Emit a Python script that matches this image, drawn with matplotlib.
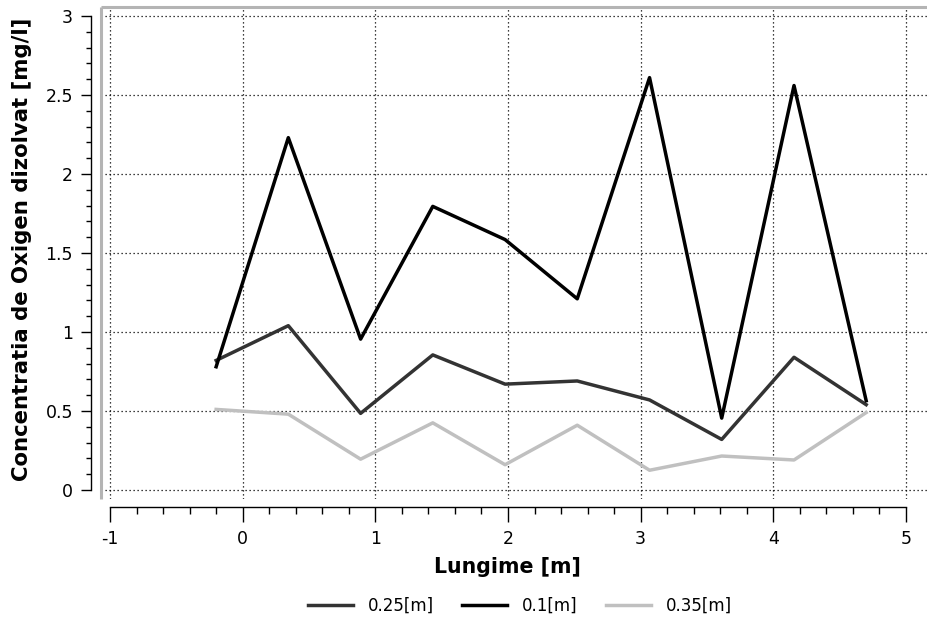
import matplotlib
matplotlib.use("Agg")
import matplotlib.pyplot as plt
from matplotlib.ticker import MultipleLocator
from matplotlib.lines import Line2D

# Data
lungime = [-0.2, 0.344, 0.889, 1.433, 1.978, 2.522, 3.067, 3.611, 4.156, 4.7]
conc_025 = [0.82, 1.04, 0.485, 0.855, 0.67, 0.69, 0.57, 0.32, 0.84, 0.54]
conc_01 = [0.78, 2.23, 0.955, 1.795, 1.585, 1.21, 2.61, 0.455, 2.56, 0.565]
conc_035 = [0.51, 0.48, 0.195, 0.425, 0.16, 0.41, 0.125, 0.215, 0.19, 0.49]
series_labels = ["0.25[m]", "0.1[m]", "0.35[m]"]

plt.rcParams['font.family'] = ['DejaVu Sans']

W, H = 928, 619
fig = plt.figure(figsize=(W / 100, H / 100), dpi=100)
ax = fig.add_axes([101 / W, (H - 499) / H, (W - 101) / W, (499 - 7) / H])

ax.plot(lungime, conc_025, color="#333333", lw=2.5, label=series_labels[0])
ax.plot(lungime, conc_01, color="#000000", lw=2.5, label=series_labels[1])
ax.plot(lungime, conc_035, color="#c0c0c0", lw=2.5, label=series_labels[2])

ax.set_xlim(-1.068, 5.166)
ax.set_ylim(-0.057, 3.057)

ax.xaxis.set_major_locator(MultipleLocator(1))
ax.xaxis.set_minor_locator(MultipleLocator(0.2))
ax.yaxis.set_major_locator(MultipleLocator(0.5))
ax.yaxis.set_minor_locator(MultipleLocator(0.1))
ax.yaxis.set_major_formatter(plt.FuncFormatter(lambda v, p: f"{v:g}"))
ax.xaxis.set_major_formatter(plt.FuncFormatter(lambda v, p: f"{v:g}"))

ax.grid(True, which='major', color='black', linestyle=(0, (1, 2.2)), lw=0.9)

for s in ['top', 'right']:
    ax.spines[s].set_visible(False)
ax.spines['left'].set_position(('outward', 7.2))
ax.spines['left'].set_bounds(0, 3)
ax.spines['bottom'].set_position(('outward', 5.8))
ax.spines['bottom'].set_bounds(-1, 5)
for s in ['left', 'bottom']:
    ax.spines[s].set_color('black')
    ax.spines[s].set_linewidth(1.0)

ax.tick_params(axis='x', which='major', direction='out', length=10.8, width=1.0, pad=6, labelsize=12.5)
ax.tick_params(axis='x', which='minor', direction='out', length=5, width=1.0)
ax.tick_params(axis='y', which='major', direction='out', length=7, width=1.0, pad=6, labelsize=12.5)
ax.tick_params(axis='y', which='minor', direction='out', length=3.6, width=1.0)

# gray frame on left and top
frame_kw = dict(transform=ax.transAxes, color="#b4b4b4", lw=2.2, clip_on=False, solid_capstyle='butt')
ax.add_line(Line2D([0, 0], [0, 1], **frame_kw))
ax.add_line(Line2D([0, 1], [1, 1], **frame_kw))

fig.text(22 / W, (H - 249) / H, "Concentratia de Oxigen dizolvat [mg/l]", rotation=90,
         ha='center', va='center', fontsize=15.3, fontweight='bold')
fig.text(507 / W, (H - 567) / H, "Lungime [m]", ha='center', va='center', fontsize=14.8, fontweight='bold')

handles, labels = ax.get_legend_handles_labels()
fig.legend(handles, labels, loc='center', bbox_to_anchor=(520 / W, (H - 606) / H), ncol=3,
           frameon=False, fontsize=12, handlelength=2.7, columnspacing=1.7, handletextpad=0.9)

fig.savefig("out.png", dpi=100)
